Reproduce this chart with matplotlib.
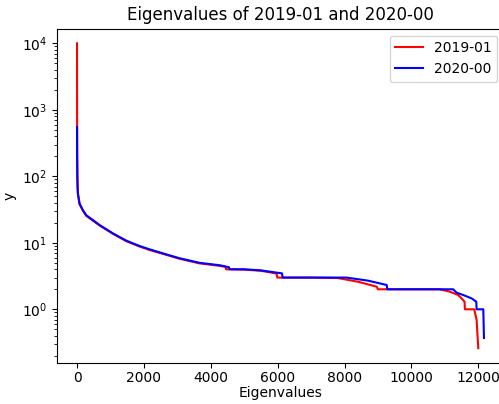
import matplotlib
matplotlib.use("Agg")
import matplotlib.pyplot as plt

# Series 2019-01 (red)
red_x = [0, 2, 5, 12, 25, 75, 175, 275, 475, 675, 1070, 1470, 1870, 2170, 2670,
         3070, 3670, 4265, 4440, 4460, 5000, 5500, 5970, 5990, 7000, 7800, 8400,
         8960, 9000, 10000, 10850, 11150, 11400, 11500, 11590, 11600, 11880,
         11950, 12000]
red_y = [10000, 900, 250, 100, 55, 38, 30.5, 25.5, 21.5, 18.2, 13.7, 10.6, 8.8,
         7.8, 6.6, 5.75, 4.9, 4.5, 4.35, 4.0, 3.95, 3.8, 3.45, 3.0, 3.0, 2.95,
         2.6, 2.19, 2.0, 2.0, 2.0, 1.84, 1.64, 1.46, 1.3, 1.0, 1.0, 0.69, 0.26]

# Series 2020-00 (blue)
blue_x = [0, 3, 8, 15, 25, 75, 175, 275, 475, 675, 1070, 1470, 1870, 2170, 2670,
          3070, 3670, 4265, 4540, 4565, 5000, 5500, 6130, 6150, 7000, 8060, 8700,
          9260, 9280, 10000, 11250, 11350, 11550, 11800, 11940, 11950, 12150,
          12170]
blue_y = [550, 200, 100, 70, 56, 39, 31, 26, 22, 18.5, 13.9, 10.8, 8.95, 7.98, 6.7,
          5.85, 5.0, 4.6, 4.3, 4.0, 4.0, 3.85, 3.47, 3.0, 3.0, 3.0, 2.7, 2.32,
          2.0, 2.0, 2.0, 1.78, 1.64, 1.46, 1.3, 1.0, 1.0, 0.37]

labels = ["2019-01", "2020-00"]

fig = plt.figure(figsize=(4.99, 4.04), dpi=100)
W, H = 499, 404
left_px, right_px, top_px, bottom_px = 56.7, 504.3, 28.7, 362.7
ax = fig.add_axes([left_px / W, 1 - bottom_px / H,
                   (right_px - left_px) / W, (bottom_px - top_px) / H])

ax.plot(red_x, red_y, color="red", lw=1.5, label=labels[0])
ax.plot(blue_x, blue_y, color="blue", lw=1.5, label=labels[1])
ax.set_yscale("log")
ax.set_xlim(-608, 12778)
ax.set_ylim(10 ** -0.803, 10 ** 4.22)
ax.set_xticks([0, 2000, 4000, 6000, 8000, 10000, 12000])
ax.tick_params(axis="x", pad=2.5)
ax.set_title("Eigenvalues of 2019-01 and 2020-00")
ax.set_xlabel("Eigenvalues", labelpad=0.5)
ax.set_ylabel("y")
ax.legend(loc="upper right")

fig.savefig("out.png", dpi=100)
